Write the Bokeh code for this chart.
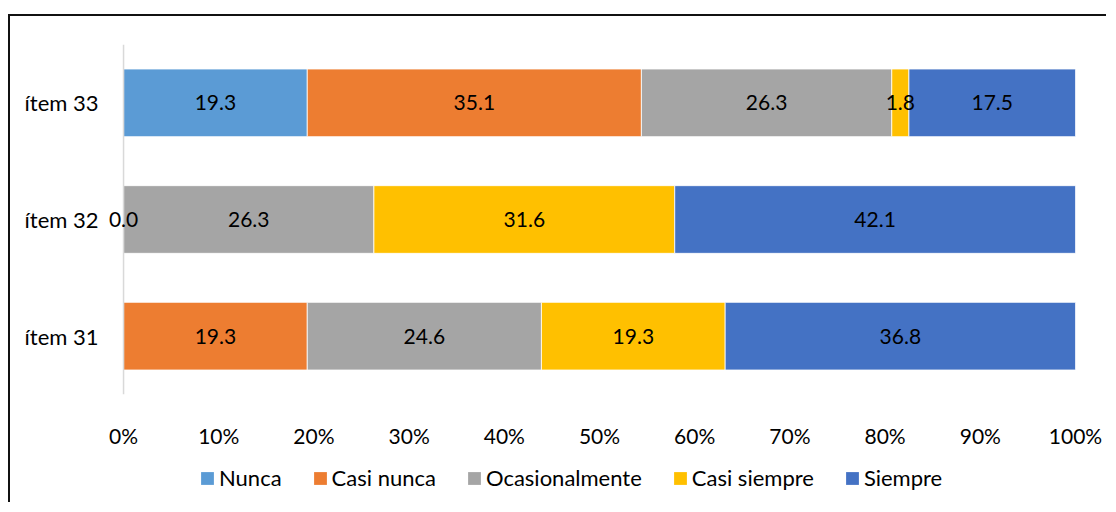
import numpy as np
from bokeh.plotting import figure
from bokeh.layouts import column
from bokeh.models import (ColumnDataSource, Legend, LegendItem, FactorRange, Range1d,
                          FixedTicker, LabelSet, Span)
from bokeh.core.properties import value
from bokeh.embed import file_html
from bokeh.resources import INLINE

# ---- data ----
items = ["ítem 31", "ítem 32", "ítem 33"]
series = ["Nunca", "Casi nunca", "Ocasionalmente", "Casi siempre", "Siempre"]
nunca = [None, 0.0, 19.3]
casi_nunca = [19.3, None, 35.1]
ocasionalmente = [24.6, 26.3, 26.3]
casi_siempre = [19.3, 31.6, 1.8]
siempre = [36.8, 42.1, 17.5]
colors = ["#5B9BD5", "#ED7D31", "#A5A5A5", "#FFC000", "#4472C4"]
x_ticks = [0, 10, 20, 30, 40, 50, 60, 70, 80, 90, 100]
x_tick_labels = [f"{t}%" for t in x_ticks]

FONT = "Lato"
FS = "21px"
FS_L = "22px"

all_series = [nunca, casi_nunca, ocasionalmente, casi_siempre, siempre]

p = figure(
    width=1096, height=434,
    y_range=FactorRange(factors=items, range_padding=0),
    x_range=Range1d(-2.0, 100),
    output_backend="svg", toolbar_location=None,
    min_border_left=94, min_border_right=31, min_border_top=28, min_border_bottom=53,
)
p.outline_line_color = None
p.xgrid.grid_line_color = None
p.ygrid.grid_line_color = None

# legend-only figure
pl = figure(
    width=1096, height=52,
    y_range=FactorRange(factors=items),
    x_range=Range1d(-2.0, 100),
    x_axis_location=None, y_axis_location=None,
    output_backend="svg", toolbar_location=None,
    min_border_left=94, min_border_right=31, min_border_top=0, min_border_bottom=0,
)
pl.grid.visible = False
pl.outline_line_color = None

left = np.zeros(len(items))
legend_items = []
lab_items, lab_x, lab_t = [], [], []
for name, vals, col in zip(series, all_series, colors):
    v = np.array([0.0 if x is None else x for x in vals])
    right = left + v
    src = ColumnDataSource(dict(item=items, left=left.copy(), right=right.copy()))
    p.hbar(y="item", left="left", right="right", height=0.58, source=src,
           fill_color=col, line_color="white", line_width=0.8)
    rl = pl.hbar(y="item", left="left", right="right", height=0.58, source=src,
                 fill_color=col, line_color=None, visible=False)
    legend_items.append(LegendItem(label=name, renderers=[rl]))
    for i, x in enumerate(vals):
        if x is None:
            continue
        lab_items.append(items[i])
        lab_x.append((left[i] + right[i]) / 2)
        lab_t.append(f"{x:.1f}")
    left = right

p.add_layout(Span(location=0, dimension="height", line_color="#D9D9D9", line_width=1.5))

lsrc = ColumnDataSource(dict(item=lab_items, x=lab_x, t=lab_t))
labels = LabelSet(x="x", y="item", text="t", source=lsrc, text_align="center",
                  text_baseline="middle", text_font=value(FONT), text_font_size=FS,
                  text_color="#000000", level="overlay")
p.add_layout(labels)

legend = Legend(items=legend_items, orientation="horizontal", location=(95, 11),
                padding=0, margin=0, border_line_color=None, background_fill_alpha=0,
                inactive_fill_alpha=0.0,
                label_text_font=FONT, label_text_font_size=FS_L, label_text_color="#000000",
                glyph_width=16, glyph_height=16, label_height=20, label_standoff=4,
                spacing=30)
pl.add_layout(legend)

p.xaxis.ticker = FixedTicker(ticks=x_ticks)
p.xaxis.major_label_overrides = {t: l for t, l in zip(x_ticks, x_tick_labels)}
p.xaxis.axis_line_color = None
p.xaxis.major_tick_line_color = None
p.xaxis.minor_tick_line_color = None
p.xaxis.major_label_standoff = 22
p.xaxis.major_label_text_font = FONT
p.xaxis.major_label_text_font_size = FS
p.xaxis.major_label_text_color = "#000000"

p.yaxis.axis_line_color = None
p.yaxis.major_tick_line_color = None
p.yaxis.minor_tick_line_color = None
p.yaxis.major_label_standoff = 0
p.yaxis.major_label_text_font = FONT
p.yaxis.major_label_text_font_size = FS_L
p.yaxis.major_label_text_color = "#000000"

layout = column(p, pl, spacing=0, margin=(14, 0, 0, 8),
                styles={"border-left": "2px solid #111111", "border-top": "2px solid #111111"})

open("out.html", "w").write(file_html(layout, INLINE))
